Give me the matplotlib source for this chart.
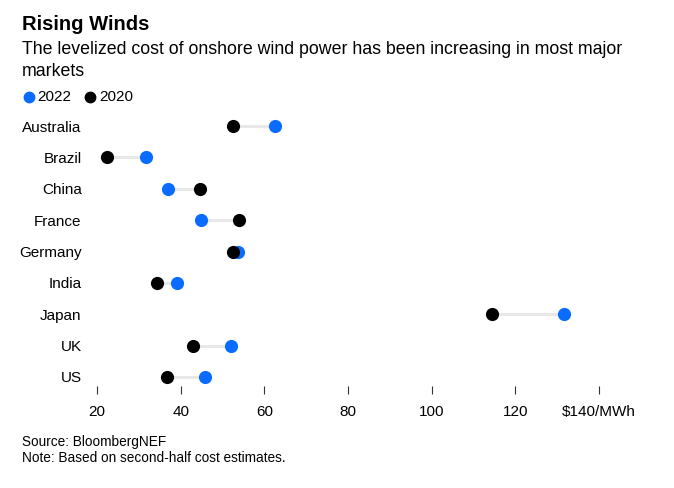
import matplotlib.pyplot as plt
from matplotlib.lines import Line2D

# data ($/MWh)
countries = ["Australia", "Brazil", "China", "France", "Germany", "India", "Japan", "UK", "US"]
cost_2022 = [62.5, 31.6, 36.9, 44.8, 53.8, 39.1, 131.6, 52.0, 45.8]
cost_2020 = [52.6, 22.3, 44.6, 53.9, 52.5, 34.3, 114.4, 42.9, 36.7]
xticks = [20, 40, 60, 80, 100, 120, 140]
xtick_labels = ["20", "40", "60", "80", "100", "120", "\\$140/MWh"]
legend_labels = ["2022", "2020"]

BLUE = "#0a6cff"
plt.rcParams['font.family'] = ['Liberation Sans', 'DejaVu Sans']

fig = plt.figure(figsize=(6.74, 4.88), dpi=100)
ax = fig.add_axes([0.1315, 0.209, 0.7697, 0.5615])

ypos = list(range(len(countries)))
# connecting lines
for y, a, b in zip(ypos, cost_2020, cost_2022):
    ax.plot([a, b], [y, y], color="#e8e8e8", lw=2.2, zorder=1, solid_capstyle="butt")
ax.scatter(cost_2022, ypos, s=90, color=BLUE, zorder=2, linewidths=0)
ax.scatter(cost_2020, ypos, s=90, color="black", zorder=3, linewidths=0)

ax.set_xlim(18, 142)
ax.set_ylim(8.29, -0.45)
ax.set_yticks(ypos)
ax.set_yticklabels(countries, fontsize=11)
ax.set_xticks(xticks)
ax.set_xticklabels(xtick_labels, fontsize=11)
ax.tick_params(axis="y", length=0, pad=5)
ax.tick_params(axis="x", length=6, width=0.8, color="#333333", pad=8)
for s in ax.spines.values():
    s.set_visible(False)

# titles
fig.text(22 / 674, 1 - 30 / 488, "Rising Winds", fontsize=14.5, fontweight="bold")
fig.text(22 / 674, 1 - 54 / 488, "The levelized cost of onshore wind power has been increasing in most major",
         fontsize=12.8)
fig.text(22 / 674, 1 - 76 / 488, "markets", fontsize=12.8)

# legend, drawn by hand
for (dot_x, txt_x), col, lab in zip([(29, 37), (90, 99)], [BLUE, "black"], legend_labels):
    fig.add_artist(Line2D([dot_x / 674], [1 - 97 / 488], marker="o", ls="", color=col,
                          markersize=7.5, transform=fig.transFigure))
    fig.text(txt_x / 674, 1 - 97 / 488, lab, fontsize=11, va="center")

# footer
fig.text(22 / 674, 1 - 446 / 488, "Source: BloombergNEF", fontsize=9.8)
fig.text(22 / 674, 1 - 462 / 488, "Note: Based on second-half cost estimates.", fontsize=9.8)

fig.savefig("out.png", dpi=100)
